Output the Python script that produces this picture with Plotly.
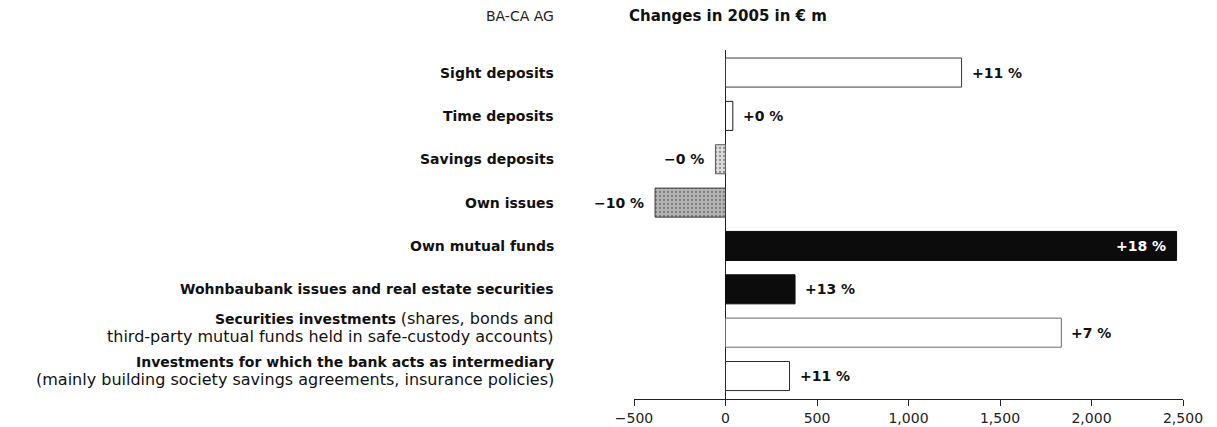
import plotly.graph_objects as go

# Change in customer funds, BA-CA AG, 2005 (EUR m)
categories = [
    "Sight deposits",
    "Time deposits",
    "Savings deposits",
    "Own issues",
    "Own mutual funds",
    "Wohnbaubank issues and real estate securities",
    "Securities investments",
    "Investments for which the bank acts as intermediary",
]
NORMAL = '<span style="font-weight:normal;font-size:16px">{}</span>'
label_texts = [
    "<b>Sight deposits</b>",
    "<b>Time deposits</b>",
    "<b>Savings deposits</b>",
    "<b>Own issues</b>",
    "<b>Own mutual funds</b>",
    "<b>Wohnbaubank issues and real estate securities</b>",
    "<b>Securities investments</b> " + NORMAL.format("(shares, bonds and")
    + "<br>" + NORMAL.format("third-party mutual funds held in safe-custody accounts)"),
    "<b>Investments for which the bank acts as intermediary</b><br>"
    + NORMAL.format("(mainly building society savings agreements, insurance policies)"),
]
changes = [1290, 40, -55, -385, 2465, 380, 1835, 350]
pct_labels = ["+11 %", "+0 %", "\u22120 %", "\u221210 %", "+18 %", "+13 %", "+7 %", "+11 %"]

tick_vals = [-500, 0, 500, 1000, 1500, 2000, 2500]
tick_text = ["\u2212500", "0", "500", "1,000", "1,500", "2,000", "2,500"]

fill_colors = ["#ffffff", "#ffffff", "#dcdcdc", "#b4b4b4", "#0c0c0c", "#0c0c0c", "#ffffff", "#ffffff"]
line_colors = ["#3a3a3a", "#1a1a1a", "#5a5a5a", "#3a3a3a", "#0c0c0c", "#0c0c0c", "#6a6a6a", "#2a2a2a"]
pattern_shapes = ["", "", ".", ".", "", "", "", ""]
pattern_fg = ["#ffffff", "#ffffff", "#9a9a9a", "#707070", "#0c0c0c", "#0c0c0c", "#ffffff", "#ffffff"]

FONT = "DejaVu Sans"
W, H = 1217, 427
L, R, T, B = 634, 34, 50, 28
plot_w = W - L - R
plot_h = H - T - B

fig = go.Figure(
    go.Bar(
        x=changes,
        y=categories,
        orientation="h",
        width=0.67,
        marker=dict(
            color=fill_colors,
            line=dict(color=line_colors, width=1),
            pattern=dict(shape=pattern_shapes, fgcolor=pattern_fg,
                         bgcolor=fill_colors, size=4, solidity=0.25),
        ),
        hoverinfo="skip",
    )
)

# value labels beside (or inside) each bar
for cat, val, txt in zip(categories, changes, pct_labels):
    inside = val > 2000
    if inside:
        anchor, shift, col = "right", -9, "#ffffff"
    elif val >= 0:
        anchor, shift, col = "left", 8, "#111111"
    else:
        anchor, shift, col = "right", -9, "#111111"
    fig.add_annotation(
        x=val, y=cat, xref="x", yref="y", text="<b>" + txt + "</b>",
        xanchor=anchor, yanchor="middle", xshift=shift, showarrow=False,
        font=dict(family=FONT, size=14, color=col),
    )

# category labels to the left of the axis
label_x = (556 - L) / plot_w
for cat, txt in zip(categories, label_texts):
    two_line = "<br>" in txt
    fig.add_annotation(
        x=label_x, y=cat, xref="paper", yref="y", text=txt,
        xanchor="right", yanchor="middle", align="right",
        yshift=5 if two_line else 0, showarrow=False,
        font=dict(family=FONT, size=14, color="#111111"),
    )

# header texts
fig.add_annotation(
    x=label_x, y=1 + (T - 16) / plot_h, xref="paper", yref="paper",
    text="BA-CA AG", xanchor="right", yanchor="middle", showarrow=False,
    font=dict(family=FONT, size=14, color="#222222"),
)
fig.add_annotation(
    x=(627 - L) / plot_w, y=1 + (T - 16) / plot_h, xref="paper", yref="paper",
    text="<b>Changes in 2005 in \u20ac m</b>", xanchor="left", yanchor="middle",
    showarrow=False, font=dict(family=FONT, size=15, color="#111111"),
)

fig.update_layout(
    width=W, height=H,
    margin=dict(l=L, r=R, t=T, b=B, pad=0, autoexpand=False),
    paper_bgcolor="#ffffff", plot_bgcolor="#ffffff",
    showlegend=False,
    xaxis=dict(
        range=[-500, 2500], tickvals=tick_vals, ticktext=tick_text,
        showgrid=False, zeroline=True, zerolinecolor="#222222", zerolinewidth=1,
        showline=True, linecolor="#222222", linewidth=1,
        ticks="outside", ticklen=6, tickcolor="#222222", tickwidth=1,
        tickfont=dict(family=FONT, size=14, color="#222222"),
        automargin=False, fixedrange=True,
    ),
    yaxis=dict(
        categoryorder="array", categoryarray=categories,
        range=[7.53, -0.52], showticklabels=False, showgrid=False,
        zeroline=False, showline=False, ticks="", automargin=False,
        fixedrange=True,
    ),
)

fig.write_html("out.html")
